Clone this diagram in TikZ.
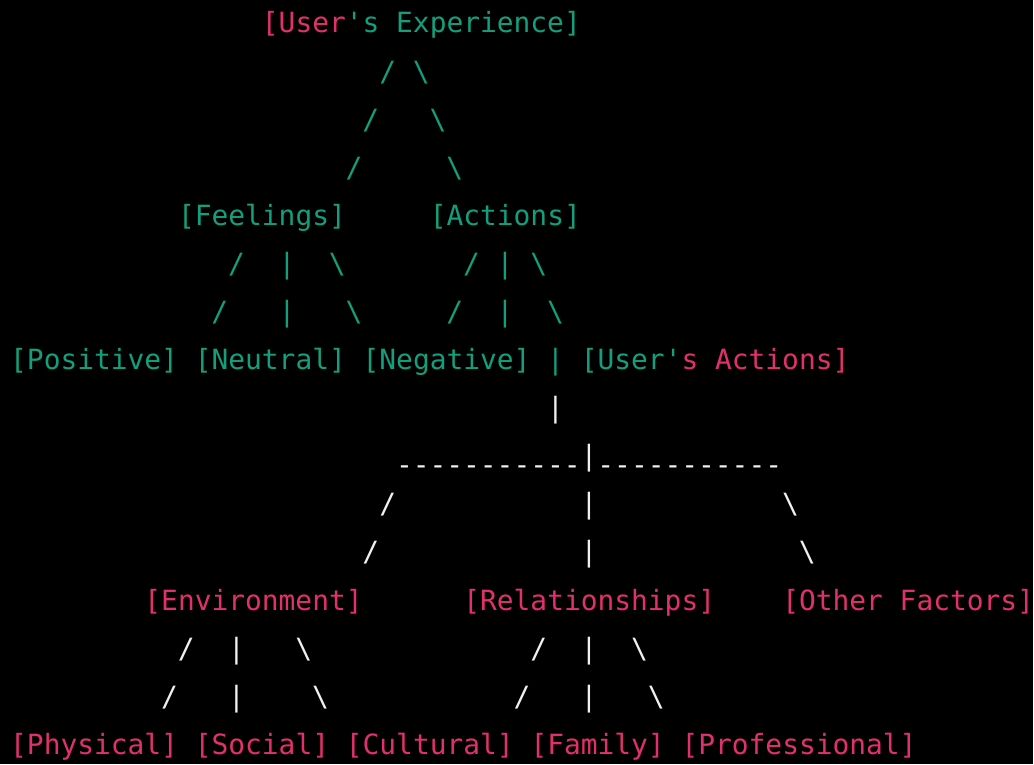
\documentclass[tikz,border=0pt]{standalone}
\usepackage{fontspec}
\newfontfamily\asciifont{DejaVu Sans Mono}
\usepackage{xcolor}
\definecolor{termgreen}{HTML}{12A07C}
\definecolor{termpink}{HTML}{E2306C}
\definecolor{termwhite}{HTML}{F0F0F0}
\usetikzlibrary{positioning}

\begin{document}
\begin{tikzpicture}[x=16.8pt, y=-48.13pt,
		every node/.style={inner sep=0pt, font=\asciifont\fontsize{27.9pt}{30pt}\selectfont},
		tag/.style={anchor=base west},
		wire/.style={anchor=base}]
	% terminal background
	\fill[black] (-10pt,33pt) rectangle (1024pt,-732pt);

	% top of the tree
	\node[tag, text=termpink] (root) at (15,0) {[User\textcolor{termgreen}{'s Experience]}};
	\node[tag, text=termgreen] (feel) at (10,4) {[Feelings]};
	\node[tag, text=termgreen] (act) at (25,4) {[Actions]};
	\node[tag, text=termgreen] (pos) at (0,7) {[Positive]};
	\node[tag, text=termgreen] (neu) at (11,7) {[Neutral]};
	\node[tag, text=termgreen] (neg) at (21,7) {[Negative]};
	\node[wire, text=termgreen] (bar) at (32.5,7) {|};
	\node[tag, text=termgreen] (uact) at (34,7) {[User'\textcolor{termpink}{s Actions]}};

	% green branches
	\foreach \c/\r in {22/1, 21/2, 20/3, 13/5, 27/5, 12/6, 26/6}
		\node[wire, text=termgreen] (gl-\c-\r) at (\c.5,\r) {/};
	\foreach \c/\r in {16/5, 29/5, 16/6, 29/6}
		\node[wire, text=termgreen] (gv-\c-\r) at (\c.5,\r) {|};
	\foreach \c/\r in {24/1, 25/2, 26/3, 19/5, 31/5, 20/6, 32/6}
		\node[wire, text=termgreen] (gr-\c-\r) at (\c.5,\r) {\textbackslash};

	% split below the actions
	\node[wire, text=termwhite] (stem) at (32.5,8) {|};
	\foreach \c in {23,...,33}
		\node[wire, text=termwhite, yshift=-9pt] (dash-\c) at (\c.5,9) {-};
	\foreach \c in {35,...,45}
		\node[wire, text=termwhite, yshift=-9pt] (dash-\c) at (\c.5,9) {-};
	\node[wire, text=termwhite] (hub) at (34.5,9) {|};

	% factors
	\node[tag, text=termpink] (env) at (8,12) {[Environment]};
	\node[tag, text=termpink] (rel) at (27,12) {[Relationships]};
	\node[tag, text=termpink] (oth) at (46,12) {[Other Factors]};
	\node[tag, text=termpink] (phy) at (0,15) {[Physical]};
	\node[tag, text=termpink] (soc) at (11,15) {[Social]};
	\node[tag, text=termpink] (cul) at (20,15) {[Cultural]};
	\node[tag, text=termpink] (fam) at (31,15) {[Family]};
	\node[tag, text=termpink] (pro) at (40,15) {[Professional]};

	% white branches
	\foreach \c/\r in {22/10, 21/11, 10/13, 31/13, 9/14, 30/14}
		\node[wire, text=termwhite] (wl-\c-\r) at (\c.5,\r) {/};
	\foreach \c/\r in {34/10, 34/11, 13/13, 34/13, 13/14, 34/14}
		\node[wire, text=termwhite] (wv-\c-\r) at (\c.5,\r) {|};
	\foreach \c/\r in {46/10, 47/11, 17/13, 37/13, 18/14, 38/14}
		\node[wire, text=termwhite] (wr-\c-\r) at (\c.5,\r) {\textbackslash};
\end{tikzpicture}
\end{document}
